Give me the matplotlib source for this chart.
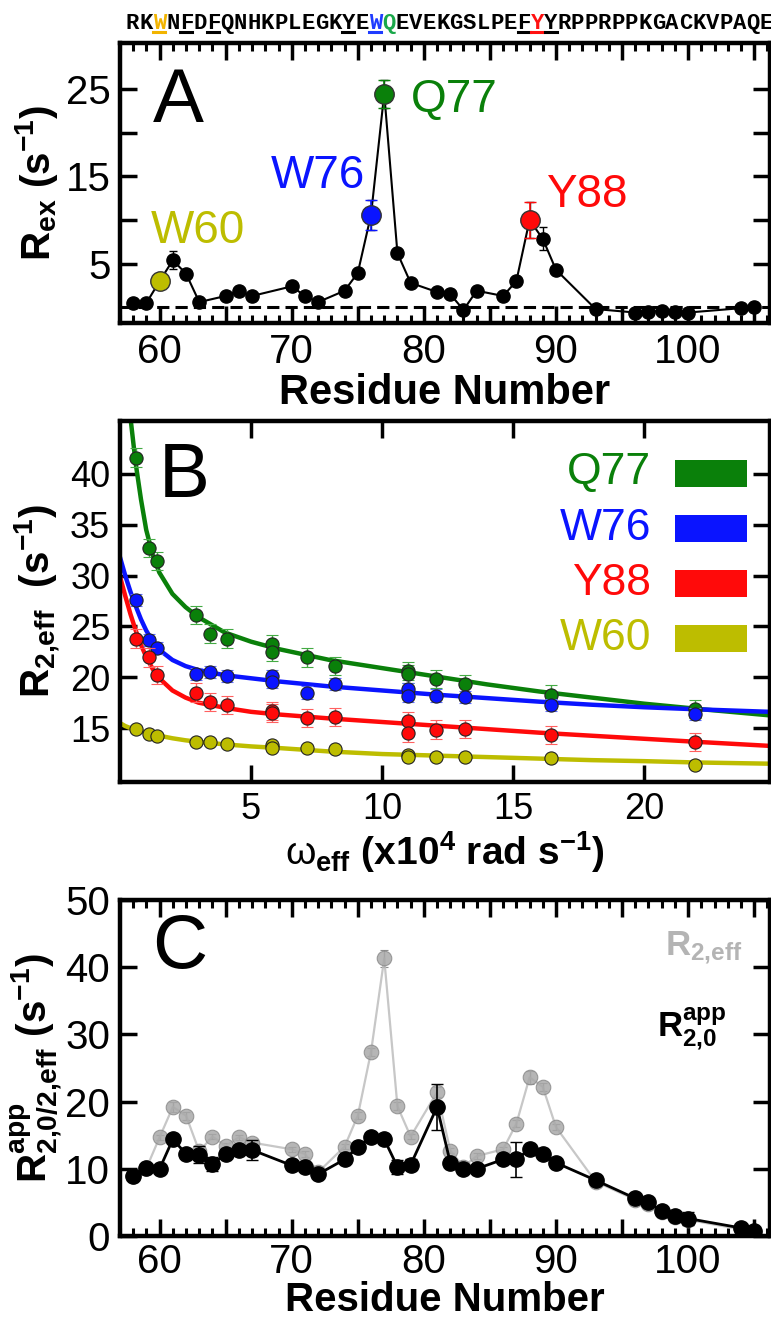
import numpy as np
import matplotlib
matplotlib.use("Agg")
import matplotlib.pyplot as plt
from matplotlib.patches import Rectangle
from matplotlib.ticker import MultipleLocator, FixedLocator, FuncFormatter

plt.rcParams['font.family'] = ['Liberation Sans', 'DejaVu Sans']
plt.rcParams['mathtext.fontset'] = 'custom'
plt.rcParams['mathtext.rm'] = 'Liberation Sans'
plt.rcParams['mathtext.bf'] = 'Liberation Sans:bold'
plt.rcParams['mathtext.it'] = 'Liberation Sans:italic'

# ---- sequence on top ----
sequence = "RKWNFDFQNHKPLEGKYEWQEVEKGSLPEFYYRPPRPPKGACKVPAQE"
first_res = 58
seq_colors = {60: '#f2b400', 76: '#1f3cff', 77: '#1aa84a', 88: '#ff1010'}
underlined = {60: '#f2b400', 62: 'k', 64: 'k', 74: 'k', 76: '#1f3cff',
              87: 'k', 88: '#ff1010', 89: 'k'}

# ---- panel A: Rex per residue ----
res_A = [58, 59, 60, 61, 62, 63, 65, 66, 67, 70, 71, 72, 74, 75, 76, 77, 78, 79,
         81, 82, 83, 84, 86, 87, 88, 89, 90, 93, 96, 97, 98, 99, 100, 104, 105]
rex_A = [0.5, 0.5, 3.0, 5.4, 3.85, 0.6, 1.3, 1.9, 1.3, 2.4, 1.3, 0.6, 1.9, 3.95,
         10.6, 24.5, 6.2, 2.8, 1.75, 1.5, -0.3, 1.9, 1.3, 3.0, 10.0, 7.85, 4.3,
         -0.2, -0.6, -0.5, -0.4, -0.5, -0.6, -0.1, 0.0]
rex_err = [0.3, 0.3, 0.4, 1.0, 0.4, 0.3, 0.3, 0.3, 0.4, 0.3, 0.3, 0.3, 0.3, 0.4,
           1.7, 1.6, 0.4, 0.3, 0.3, 0.3, 0.3, 0.3, 0.3, 0.3, 2.1, 1.3, 0.4,
           0.3, 0.3, 0.3, 0.3, 0.3, 0.3, 0.3, 0.3]
hl_res = [60, 76, 77, 88]
hl_names = ['W60', 'W76', 'Q77', 'Y88']
hl_colors = ['#bdbd00', '#0a14ff', '#0a800a', '#ff0a0a']

# ---- panel B: dispersion ----
w_eff = [0.6, 1.1, 1.4, 2.9, 3.45, 4.1, 5.8, 5.8, 7.15, 8.2, 11.0, 11.0,
         12.05, 13.15, 16.45, 21.95]
r2_Q77 = [41.6, 32.7, 31.4, 26.1, 24.3, 23.8, 23.3, 22.5, 21.95, 21.1, 20.6, 20.3,
          19.8, 19.3, 18.3, 16.9]
r2_W76 = [27.6, 23.7, 22.9, 20.3, 20.5, 20.1, 20.1, 19.5, 18.5, 19.3, 18.8, 18.2,
          18.2, 18.05, 17.3, 16.4]
r2_Y88 = [23.8, 21.95, 20.2, 18.5, 17.6, 17.3, 16.7, 16.5, 16.0, 16.1, 15.7, 14.5,
          14.85, 14.9, 14.35, 13.6]
r2_W60 = [14.9, 14.4, 14.2, 13.6, 13.6, 13.4, 13.3, 13.0, 13.0, 12.9, 12.4, 12.2,
          12.2, 12.2, 12.05, 11.4]
err_B = [0.9, 0.6, 0.9, 0.2]

fit_w = [0, 0.2, 0.4, 0.6, 0.8, 1.0, 1.25, 1.5, 2.0, 2.5, 3.0, 4.0, 5.0, 6.0,
         8.0, 10.0, 12.0, 14.0, 16.0, 18.0, 20.0, 22.0, 24.8]
fit_Q77 = [60, 52, 45.5, 41, 37.5, 34.5, 32, 30.3, 28.2, 26.9, 25.9, 24.4, 23.5,
           22.8, 21.7, 20.9, 20.1, 19.3, 18.6, 18.0, 17.4, 16.9, 16.25]
fit_W76 = [31.8, 30.0, 28.4, 27.0, 25.7, 24.6, 23.5, 22.7, 21.7, 21.1, 20.7, 20.2,
           19.9, 19.6, 19.1, 18.7, 18.3, 17.95, 17.6, 17.3, 17.05, 16.85, 16.6]
fit_Y88 = [29.9, 28.0, 26.2, 24.6, 23.2, 22.0, 20.8, 19.9, 18.7, 18.0, 17.5, 17.0,
           16.6, 16.35, 15.95, 15.6, 15.25, 14.9, 14.55, 14.25, 13.95, 13.65, 13.25]
fit_W60 = [15.5, 15.2, 15.0, 14.85, 14.7, 14.55, 14.4, 14.25, 14.0, 13.8, 13.65,
           13.4, 13.2, 13.05, 12.7, 12.45, 12.3, 12.15, 12.0, 11.85, 11.75, 11.62, 11.5]

# ---- panel C: R2eff vs R20app ----
res_C = [58, 59, 60, 61, 62, 63, 64, 65, 66, 67, 70, 71, 72, 74, 75, 76, 77, 78,
         79, 81, 82, 83, 84, 86, 87, 88, 89, 90, 93, 96, 97, 98, 99, 100, 104, 105]
r20_app = [8.9, 10.1, 10.0, 14.4, 12.2, 12.1, 10.7, 12.2, 12.8, 12.8, 10.5, 10.3,
           9.2, 11.4, 13.2, 14.8, 14.4, 10.3, 10.6, 19.2, 10.9, 10.0, 10.0, 11.4,
           11.4, 12.9, 12.2, 10.9, 8.3, 5.6, 5.0, 3.7, 3.0, 2.6, 1.2, 0.75]
r20_err = [0.4, 0.4, 0.4, 0.5, 0.4, 1.3, 1.0, 0.4, 0.5, 1.5, 0.4, 0.4, 0.4, 0.4,
           0.4, 0.5, 0.5, 1.0, 0.8, 3.4, 0.4, 0.4, 0.4, 0.5, 2.6, 0.5, 0.4, 0.4,
           0.4, 0.3, 0.3, 0.3, 0.3, 1.0, 0.3, 0.3]
r2eff_C = [9.0, 10.1, 14.7, 19.2, 17.9, 12.6, 14.8, 13.4, 14.7, 13.9, 12.9, 12.2,
           9.5, 13.3, 17.9, 27.4, 41.3, 19.3, 14.8, 21.4, 12.7, 10.3, 11.9, 12.9,
           16.7, 23.6, 22.2, 16.2, 8.1, 5.4, 4.8, 3.5, 2.8, 2.4, 1.0, 0.6]
r2eff_err = [0.3, 0.3, 0.4, 0.8, 0.6, 0.4, 0.4, 0.4, 0.4, 0.4, 0.4, 0.4, 0.3, 0.4,
             0.5, 0.6, 1.2, 0.6, 0.4, 0.7, 0.4, 0.3, 0.4, 0.4, 0.5, 1.0, 0.6, 0.5,
             0.3, 0.3, 0.3, 0.3, 0.3, 0.3, 0.3, 0.3]

W, H = 771, 1317
fig = plt.figure(figsize=(W / 100, H / 100), dpi=100)


def box(l, t, r, b):
    return [l / W, 1 - b / H, (r - l) / W, (b - t) / H]


def style(ax, tick_size=29):
    for s in ax.spines.values():
        s.set_linewidth(3.2)
    ax.tick_params(which='both', direction='in', top=True, right=True, width=2.5)
    ax.tick_params(which='major', length=12, labelsize=tick_size, pad=7)
    ax.tick_params(which='minor', length=6, width=2.2)


tens = FuncFormatter(lambda v, p: '%d' % v if abs(v % 10) < 1e-6 else '')

# sequence letters
x0, step = 132.5, 13.49
for i, ch in enumerate(sequence):
    r = first_res + i
    xp = (x0 + i * step) / W
    fig.text(xp, 1 - 29 / H, ch, ha='center', va='baseline', fontsize=16,
             family='Liberation Mono', weight='bold', color=seq_colors.get(r, 'k'))
    if r in underlined:
        fig.add_artist(plt.Line2D([xp - 6 / W, xp + 6 / W], [1 - 32 / H] * 2,
                                  color=underlined[r], lw=2.2,
                                  transform=fig.transFigure))

# ---- A ----
axA = fig.add_axes(box(120, 43, 770, 323))
style(axA)
axA.axhline(0, color='k', ls=(0, (4, 2)), lw=2.2, zorder=1)
axA.errorbar(res_A, rex_A, yerr=rex_err, fmt='-o', color='k', ms=9.5, lw=1.5,
             elinewidth=1, capsize=3, capthick=1, zorder=3)
for r, name, c in zip(hl_res, hl_names, hl_colors):
    i = res_A.index(r)
    axA.errorbar([r], [rex_A[i]], yerr=[rex_err[i]], fmt='o', color=c, ms=14,
                 mec='#333333', mew=1, ecolor=c, elinewidth=1.2, capsize=4,
                 zorder=4)
ann_pos = {'W60': (59.3, 7.4), 'W76': (68.4, 13.7), 'Q77': (79.0, 22.4),
           'Y88': (89.25, 11.5)}
for name, c in zip(hl_names, hl_colors):
    axA.text(*ann_pos[name], name, color=c, fontsize=33, ha='left', va='baseline')
axA.set_xlim(57, 106.2)
axA.set_ylim(-1.8, 30.3)
axA.xaxis.set_major_locator(MultipleLocator(5))
axA.xaxis.set_minor_locator(MultipleLocator(1))
axA.xaxis.set_major_formatter(tens)
axA.yaxis.set_major_locator(FixedLocator([5, 10, 15, 20, 25]))
axA.yaxis.set_major_formatter(FuncFormatter(lambda v, p: '%d' % v if v in (5, 15, 25) else ''))
axA.set_xlabel('Residue Number', fontsize=30, weight='bold', labelpad=2)
axA.set_ylabel(r'$\mathbf{R_{ex}}$ $\mathbf{(s^{-1})}$', fontsize=29, va='center')
axA.yaxis.set_label_coords(-0.128, 0.5)
axA.text(0.05, 0.718, 'A', transform=axA.transAxes, fontsize=55, ha='left', va='baseline')

# ---- B ----
axB = fig.add_axes(box(120, 421, 770, 782))
style(axB, 26)
series = [(r2_Q77, fit_Q77, '#0a800a', '#44aa44', 'Q77'),
          (r2_W76, fit_W76, '#0a14ff', '#5a6aff', 'W76'),
          (r2_Y88, fit_Y88, '#ff0a0a', '#ff6060', 'Y88'),
          (r2_W60, fit_W60, '#bdbd00', '#d0d040', 'W60')]
for k, (vals, fit, c, ec, name) in enumerate(series):
    axB.plot(fit_w, fit, color=c, lw=3.2, zorder=2 + k * 0.1)
    axB.errorbar(w_eff, vals, yerr=err_B[k], fmt='o', mfc=c, mec='#222222', mew=0.8,
                 ms=9.5, ecolor=ec, elinewidth=1, capsize=4, zorder=3 + k * 0.1)
    yc = 473 + 55 * k
    axB.text((651 - 120) / 650, (782 - yc) / 361, name, color=c, fontsize=32,
             ha='right', va='center', transform=axB.transAxes)
    axB.add_patch(Rectangle(((675 - 120) / 650, (782 - yc - 13.5) / 361), 72 / 650,
                            27 / 361, transform=axB.transAxes, color=c, lw=0))
axB.set_xlim(0, 24.8)
axB.set_ylim(9.7, 45.2)
axB.xaxis.set_major_locator(FixedLocator([5, 10, 15, 20]))
axB.yaxis.set_major_locator(FixedLocator([15, 20, 25, 30, 35, 40]))
axB.set_xlabel(r'$\mathrm{\omega}_{\mathbf{eff}}$ $\mathbf{(x10^{4}\ rad\ s^{-1})}$',
               fontsize=28, labelpad=2)
axB.set_ylabel(r'$\mathbf{R_{2{,}eff}}$  $\mathbf{(s^{-1})}$', fontsize=29, va='center')
axB.yaxis.set_label_coords(-0.128, 0.5)
axB.text(0.06, 0.789, 'B', transform=axB.transAxes, fontsize=55, ha='left', va='baseline')

# ---- C ----
axC = fig.add_axes(box(120, 900, 770, 1236))
style(axC)
axC.errorbar(res_C, r2eff_C, yerr=r2eff_err, fmt='-o', color='#bdbdbd', lw=1.6,
             mfc='#a9a9a9', mec='#8c8c8c', mew=0.8, ms=10.5, alpha=0.85,
             ecolor='#7a7a7a', elinewidth=1, capsize=3, zorder=2)
axC.errorbar(res_C, r20_app, yerr=r20_err, fmt='-o', color='k', lw=2, ms=11,
             elinewidth=1.2, capsize=4, zorder=3)
axC.set_xlim(57, 106.2)
axC.set_ylim(0, 50)
axC.xaxis.set_major_locator(MultipleLocator(5))
axC.xaxis.set_minor_locator(MultipleLocator(1))
axC.xaxis.set_major_formatter(tens)
axC.yaxis.set_major_locator(MultipleLocator(10))
axC.tick_params(axis='x', pad=5)
axC.set_xlabel('Residue Number', fontsize=29, weight='bold', labelpad=0)
axC.set_ylabel(r'$\mathbf{R^{app}_{2{,}0/2{,}eff}}$ $\mathbf{(s^{-1})}$', fontsize=29,
               va='center')
axC.yaxis.set_label_coords(-0.128, 0.5)
axC.text(0.05, 0.798, 'C', transform=axC.transAxes, fontsize=55, ha='left', va='baseline')
axC.text((742 - 120) / 650, (1236 - 955) / 336, r'$\mathbf{R_{2{,}eff}}$', color='#b4b4b4',
         fontsize=25, ha='right', va='baseline', transform=axC.transAxes)
axC.text((727 - 120) / 650, (1236 - 1037) / 336, r'$\mathbf{R^{app}_{2{,}0}}$', color='k',
         fontsize=25, ha='right', va='baseline', transform=axC.transAxes)

fig.savefig('out.png', dpi=100)
